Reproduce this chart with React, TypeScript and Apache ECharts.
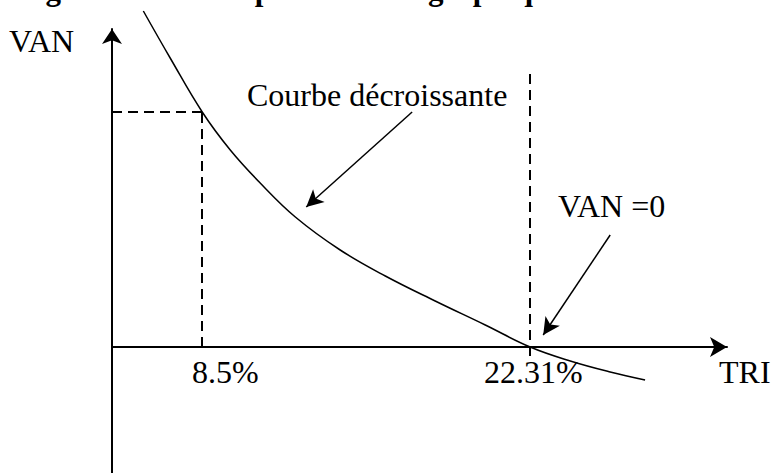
import React, { useEffect, useRef } from "react";
import * as echarts from "echarts";

// TRI (%) values along the decreasing VAN curve
const curveTri = [6.02, 7.15, 8.5, 9.68, 10.94, 12.42, 14.31, 16.21, 18.31, 20.42, 22.31, 24.0, 25.68, 27.15];
// VAN values (arbitrary units)
const curveVan = [336, 289, 235, 197, 164, 130, 97, 71, 46, 22, 0, -14, -25, -33];

const triLow = 8.5;
const vanAtLow = 235;
const triZero = 22.31;
const triLabels = ["8.5%", "22.31%"];

const SERIF = '"Liberation Serif", "Times New Roman", serif';

export default function App() {
  const ref = useRef<HTMLDivElement>(null);
  useEffect(() => {
    if (!ref.current) return;
    const chart = echarts.init(ref.current, undefined, { renderer: "svg" });
    const dash = { color: "#000", width: 2, type: [10, 6] as any };
    const arrowStyle = { color: "#000", width: 1.5, type: "solid" as any };
    const txt = (text: string, x: number, y: number) => ({
      type: "text",
      x,
      y,
      style: { text, font: `32px ${SERIF}`, fill: "#000", verticalAlign: "bottom" },
    });
    chart.setOption({
      animation: false,
      backgroundColor: "#fff",
      grid: { left: 112, right: 45, top: 29, bottom: 0 },
      xAxis: {
        type: "value",
        min: 4.7,
        max: 30.6,
        axisLine: {
          show: true,
          onZero: true,
          symbol: ["none", "arrow"],
          symbolSize: [15, 17],
          lineStyle: { color: "#000", width: 2 },
        },
        axisTick: { show: false },
        axisLabel: { show: false },
        splitLine: { show: false },
      },
      yAxis: {
        type: "value",
        min: -126,
        max: 318,
        axisLine: {
          show: true,
          symbol: ["none", "arrow"],
          symbolSize: [15, 15],
          lineStyle: { color: "#000", width: 2 },
        },
        axisTick: { show: false },
        axisLabel: { show: false },
        splitLine: { show: false },
      },
      series: [
        {
          type: "line",
          data: curveTri.map((t, i) => [t, curveVan[i]]),
          smooth: 0.4,
          showSymbol: false,
          clip: false,
          silent: true,
          lineStyle: { color: "#000", width: 1.5 },
          markLine: {
            silent: true,
            symbol: "none",
            label: { show: false },
            emphasis: { disabled: true },
            data: [
              [
                { coord: [triLow, 0], lineStyle: dash, symbol: "none" },
                { coord: [triLow, vanAtLow], symbol: "none" },
              ],
              [
                { coord: [4.7, vanAtLow], lineStyle: dash, symbol: "none" },
                { coord: [triLow, vanAtLow], symbol: "none" },
              ],
              [
                { coord: [triZero, -9], lineStyle: dash, symbol: "none" },
                { coord: [triZero, 279], symbol: "none" },
              ],
              [
                { coord: [17.34, 235], lineStyle: arrowStyle, symbol: "none" },
                { coord: [12.88, 140], symbol: "arrow", symbolSize: [13, 17] },
              ],
              [
                { coord: [25.68, 112], lineStyle: arrowStyle, symbol: "none" },
                { coord: [22.86, 12], symbol: "arrow", symbolSize: [13, 17] },
              ],
            ],
          },
        },
      ],
      graphic: [
        {
          type: "text",
          x: 18,
          y: -26,
          style: {
            text: "Figure n°1 : La représentation graphique du TRI",
            font: `bold 31px ${SERIF}`,
            fill: "#000",
            verticalAlign: "top",
          },
        },
        txt("VAN", 9, 57),
        txt("Courbe décroissante", 247, 111),
        txt("VAN =0", 558, 222),
        txt(triLabels[0], 192, 388),
        txt(triLabels[1], 484, 388),
        txt("TRI", 719, 388),
      ],
    });
    return () => chart.dispose();
  }, []);
  return (
    <div
      ref={ref}
      style={{ position: "fixed", left: 0, top: 0, width: 772, height: 473 }}
    />
  );
}
